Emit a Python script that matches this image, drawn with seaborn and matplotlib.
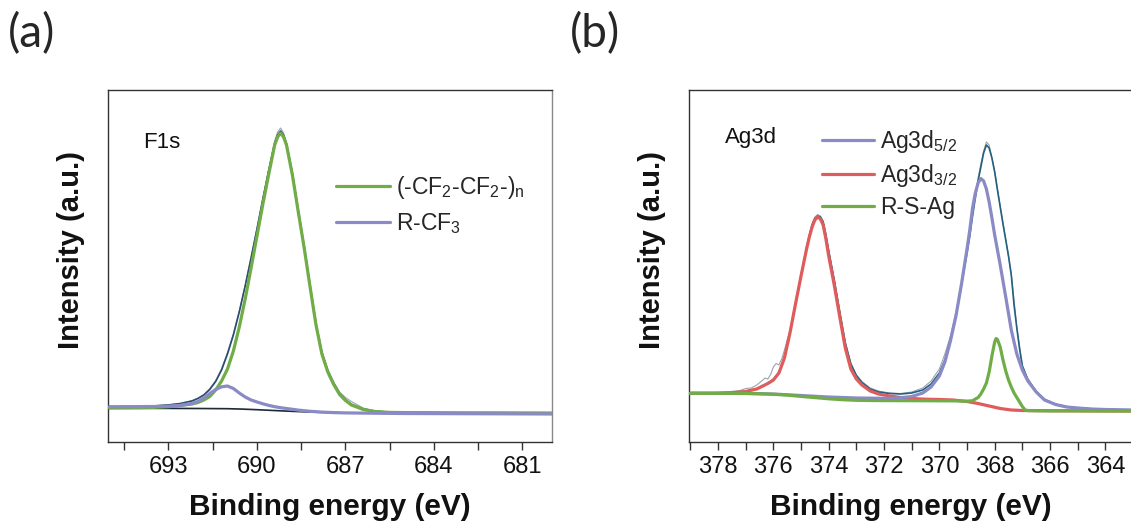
import numpy as np
import pandas as pd
import matplotlib
matplotlib.use("Agg")
import matplotlib.pyplot as plt
from matplotlib.ticker import MultipleLocator
from matplotlib.lines import Line2D
import seaborn as sns

# ---------------- data: panel (a) F1s ----------------
E_a = [695, 694.5, 694, 693.5, 693, 692.6, 692.2, 692.0, 691.8, 691.6, 691.4, 691.2, 691.0,
       690.8, 690.6, 690.4, 690.2, 690.0, 689.8, 689.6, 689.4, 689.3, 689.2, 689.1, 689.0,
       688.8, 688.6, 688.4, 688.2, 688.0, 687.8, 687.6, 687.4, 687.2, 687.0, 686.8, 686.4,
       686.0, 685.5, 685, 684, 683, 682, 681, 680]
cf2_a = [34.0, 34.1, 34.3, 34.6, 35.3, 36.5, 38.0, 39.5, 42.0, 45.5, 52.0, 61.0, 73.0,
         91.0, 115.0, 143.0, 174.0, 206.0, 238.0, 268.0, 297.0, 305.0, 309.0, 305.0, 297.0,
         267.0, 230.0, 194.0, 155.0, 117.0, 88.0, 70.0, 57.5, 47.5, 41.5, 37.0, 32.5,
         30.5, 29.6, 29.4, 29.3, 29.2, 29.2, 29.1, 29.0]
env_a = [35.0, 35.2, 35.5, 36.0, 37.0, 38.5, 41.0, 43.5, 47.0, 52.5, 60.5, 72.0, 88.0,
         107.0, 130.0, 156.0, 184.0, 213.0, 243.0, 272.0, 299.0, 307.0, 311.0, 307.0, 298.5,
         268.5, 231.5, 195.5, 156.5, 118.5, 89.5, 71.3, 58.7, 48.6, 42.4, 37.8, 33.0,
         30.8, 29.8, 29.5, 29.3, 29.2, 29.1, 29.0, 28.9]
raw_a = [35.6, 35.0, 35.9, 36.2, 37.4, 38.3, 41.5, 44.0, 47.6, 53.5, 61.5, 73.5, 89.5,
         108.5, 131.5, 157.0, 185.0, 214.0, 244.5, 273.0, 301.0, 310.0, 314.0, 309.0, 299.0,
         269.0, 232.0, 196.0, 157.5, 119.5, 90.5, 72.5, 60.0, 50.0, 44.5, 40.5, 34.0,
         31.0, 30.2, 29.4, 29.6, 29.1, 29.3, 28.9, 29.0]
E_a_bg = [695, 693, 692, 691, 690.5, 690, 689.5, 689, 688.5, 688, 687.5, 687, 686, 684, 682, 680]
bg_a = [33.7, 33.6, 33.5, 33.3, 32.9, 32.3, 31.6, 30.9, 30.3, 29.8, 29.4, 29.1, 28.8, 28.6, 28.5, 28.4]
E_a_cf3 = [695, 694, 693.5, 693, 692.6, 692.2, 692.0, 691.8, 691.6, 691.4, 691.2, 691.0,
           690.8, 690.6, 690.4, 690.2, 690.0, 689.8, 689.6, 689.4, 689.2, 689.0, 688.6,
           688.2, 687.8, 687.4, 687.0, 686.4, 686.0, 685, 684, 683, 682, 681, 680]
cf3_a = [35.3, 35.4, 35.5, 35.8, 36.6, 38.6, 40.5, 44.0, 48.5, 52.5, 55.2, 56.0,
         53.5, 49.0, 45.0, 42.0, 40.0, 38.2, 36.6, 35.3, 34.3, 33.5, 31.9,
         30.7, 29.9, 29.4, 29.1, 28.9, 28.8, 28.5, 28.4, 28.3, 28.2, 28.1, 28.0]

# ---------------- data: panel (b) Ag3d ----------------
E_b_red = [379, 378, 377.5, 377, 376.6, 376.2, 376.0, 375.8, 375.6, 375.4, 375.2, 375.0,
           374.8, 374.7, 374.6, 374.5, 374.4, 374.3, 374.2, 374.1, 374.0, 373.8, 373.6,
           373.4, 373.2, 373.0, 372.8, 372.5, 372.2, 371.8, 371.4, 371.0, 370.5, 370.0,
           369.5, 369.0, 368.6, 368.2, 367.8, 367.4, 367.0, 366, 365, 364, 363]
ag32_b = [48.7, 48.8, 49.2, 50.5, 53.0, 58.5, 62.0, 69.0, 84.0, 109.0, 138.0, 166.0,
          193.0, 205.0, 215.0, 222.0, 225.0, 223.0, 217.0, 203.0, 186.0, 157.0, 125.0,
          94.0, 73.0, 63.0, 57.0, 51.0, 48.0, 46.0, 44.5, 43.5, 42.8, 42.5,
          42.0, 40.5, 38.5, 36.0, 33.5, 32.0, 31.5, 31.3, 31.2, 31.1, 31.0]
E_b_pur = [379, 377, 376, 375, 374, 373, 372, 371.5, 371.0, 370.6, 370.3, 370.0, 369.8,
           369.6, 369.4, 369.2, 369.0, 368.9, 368.8, 368.7, 368.6, 368.5, 368.4, 368.3,
           368.2, 368.1, 368.0, 367.9, 367.8, 367.6, 367.4, 367.2, 367.0, 366.8, 366.5,
           366.2, 365.8, 365.4, 365.0, 364.5, 364, 363.5, 363]
ag52_b = [48.7, 48.6, 48.0, 46.5, 45.0, 44.0, 43.7, 44.0, 45.5, 49.0, 55.0, 66.0, 80.0,
          101.0, 126.0, 158.0, 193.0, 212.0, 234.0, 249.0, 259.0, 263.5, 261.0, 253.0,
          240.0, 224.0, 207.0, 192.0, 177.0, 145.0, 112.0, 88.0, 72.0, 61.0, 50.0,
          42.0, 37.5, 35.0, 34.0, 33.0, 32.5, 32.2, 32.0]
E_b_grn = [379, 378, 377, 376.5, 376.0, 375.5, 375.0, 374.5, 374.0, 373.5, 373.0, 372.5,
           372, 371, 370, 369.4, 369.0, 368.8, 368.6, 368.5, 368.4, 368.3, 368.2, 368.1,
           368.0, 367.95, 367.9, 367.8, 367.7, 367.6, 367.5, 367.4, 367.3, 367.2, 367.1,
           367.0, 366.9, 366.8, 366.5, 366, 365, 364, 363]
rsag_b = [48.7, 48.7, 48.5, 48.2, 47.7, 46.9, 45.6, 44.4, 43.2, 42.3, 41.7, 41.5,
          41.4, 41.3, 41.2, 41.1, 40.8, 41.3, 44.5, 48.0, 53.0, 59.0, 70.0, 86.0,
          100.0, 103.5, 102.5, 95.0, 82.0, 71.0, 62.0, 55.0, 49.0, 44.5, 40.0,
          35.5, 32.0, 31.4, 31.2, 31.1, 31.1, 31.0, 31.0]
E_b_env = [379, 378, 377.5, 377, 376.6, 376.2, 376.0, 375.8, 375.6, 375.4, 375.2, 375.0,
           374.8, 374.7, 374.6, 374.5, 374.4, 374.3, 374.2, 374.1, 374.0, 373.8, 373.6,
           373.4, 373.2, 373.0, 372.8, 372.5, 372.2, 371.8, 371.4, 371.0, 370.6, 370.3,
           370.0, 369.8, 369.6, 369.4, 369.2, 369.0, 368.9, 368.8, 368.7, 368.6, 368.5,
           368.4, 368.3, 368.2, 368.1, 368.0, 367.9, 367.8, 367.7, 367.6, 367.5, 367.4,
           367.3, 367.2, 367.1, 367.0, 366.9, 366.8, 366.5, 366.2, 365.8, 365.4, 365.0,
           364.5, 364, 363]
env_b = [49.0, 49.0, 49.4, 50.8, 53.3, 58.8, 62.3, 69.3, 84.5, 109.5, 138.5, 166.5,
         194.0, 206.5, 217.0, 223.5, 226.0, 225.0, 220.0, 207.0, 191.0, 162.0, 130.0,
         99.0, 78.0, 66.5, 59.5, 53.0, 50.0, 48.5, 48.0, 49.0, 52.0, 58.0,
         69.0, 82.0, 102.0, 126.0, 157.0, 189.0, 206.0, 226.0, 244.0, 261.0, 275.0,
         289.0, 297.0, 294.0, 284.0, 270.0, 252.0, 235.0, 218.0, 202.0, 186.0, 167.0,
         137.0, 114.0, 93.0, 76.0, 69.0, 62.5, 50.5, 42.5, 37.8, 35.2, 34.1,
         33.1, 32.6, 32.1]
E_b_raw = [379, 378.5, 378, 377.5, 377.2, 377.0, 376.8, 376.6, 376.4, 376.3, 376.2, 376.1,
           376.0, 375.9, 375.8, 375.7, 375.6, 375.4, 375.2, 375.0, 374.8, 374.6, 374.5,
           374.4, 374.3, 374.2, 374.0, 373.8, 373.6, 373.4, 373.2, 373.0, 372.8, 372.5,
           372.2, 371.8, 371.4, 371.0, 370.6, 370.3, 370.0, 369.8, 369.6, 369.4, 369.2,
           369.0, 368.8, 368.6, 368.5, 368.4, 368.3, 368.2, 368.0, 367.8, 367.6, 367.4,
           367.2, 367.0, 366.8, 366.5, 366.2, 365.8, 365.4, 365.0, 364.5, 364, 363]
raw_b = [49.3, 48.8, 49.6, 50.6, 51.5, 53.5, 54.0, 57.0, 61.5, 64.0, 63.0, 67.5,
         75.0, 78.5, 77.0, 83.0, 92.0, 112.0, 140.0, 168.0, 196.0, 218.5, 225.0,
         227.5, 226.0, 221.0, 192.0, 163.0, 131.0, 100.0, 79.0, 67.0, 60.5, 54.0,
         51.0, 49.0, 48.5, 50.0, 54.0, 61.0, 73.0, 88.0, 106.0, 130.0, 160.0,
         191.0, 229.0, 264.0, 278.0, 291.0, 300.0, 297.0, 271.0, 236.0, 203.0, 168.0,
         115.0, 77.0, 63.0, 51.0, 43.0, 38.0, 35.5, 34.0, 33.3, 32.8, 32.0]

xticks_a = [693, 690, 687, 684, 681]
xticks_b = [378, 376, 374, 372, 370, 368, 366, 364]

# ---------------- style ----------------
sns.set_theme(style="white")
plt.rcParams["font.family"] = ["Liberation Sans", "DejaVu Sans"]
plt.rcParams["mathtext.fontset"] = "custom"
plt.rcParams["mathtext.rm"] = "Liberation Sans"
plt.rcParams["mathtext.it"] = "Liberation Sans"
plt.rcParams["mathtext.default"] = "regular"

GREEN = "#70ad47"
PURPLE = "#8a8ac6"
RED = "#e05c5c"
ENV_A = "#2b4c72"
BG_A = "#1d2a3a"
ENV_B = "#23617e"
RAW = "#9ba3ad"

W, H = 1131, 525
fig = plt.figure(figsize=(W / 100, H / 100), dpi=100)

def px_axes(left, right, top, bottom):
    return fig.add_axes([left / W, 1 - bottom / H, (right - left) / W, (bottom - top) / H])

ax_a = px_axes(108, 552, 90, 442)
ax_b = px_axes(689, 1133, 90, 442)

def line(ax, x, y, color, lw, z, label=None):
    sns.lineplot(x=x, y=y, ax=ax, color=color, lw=lw, sort=False, estimator=None,
                 zorder=z, legend=False, label=label)

# panel a
line(ax_a, E_a, raw_a, RAW, 0.8, 2)
line(ax_a, E_a, env_a, ENV_A, 1.2, 3)
line(ax_a, E_a_bg, bg_a, BG_A, 1.2, 3)
line(ax_a, E_a, cf2_a, GREEN, 2.3, 4)
line(ax_a, E_a_cf3, cf3_a, PURPLE, 2.3, 5)

# panel b
line(ax_b, E_b_raw, raw_b, RAW, 0.8, 2)
line(ax_b, E_b_env, env_b, ENV_B, 1.2, 3)
line(ax_b, E_b_red, ag32_b, RED, 2.3, 4)
line(ax_b, E_b_pur, ag52_b, PURPLE, 2.3, 5)
line(ax_b, E_b_grn, rsag_b, GREEN, 2.3, 6)

for ax, xl, major, minor, ticks in [(ax_a, (695.05, 680), 3, 1.5, xticks_a),
                                    (ax_b, (379.05, 363), 2, 1, xticks_b)]:
    ax.set_xlim(*xl)
    ax.set_ylim(0, 352)
    ax.set_yticks([])
    ax.set_xticks(ticks)
    ax.xaxis.set_minor_locator(MultipleLocator(minor))
    ax.tick_params(axis="x", which="both", direction="out", length=6, width=1,
                   color="#333333", bottom=True, pad=4, labelsize=17, labelcolor="#111111")
    for s in ax.spines.values():
        s.set_color("#333333")
        s.set_linewidth(1.0)
    ax.set_xlabel("Binding energy (eV)", fontsize=21.5, fontweight="bold", color="#111111")
    ax.xaxis.label.set_va("center")
    ax.xaxis.set_label_coords(0.5, -0.186)
    ax.set_ylabel("Intensity (a.u.)", fontsize=21, fontweight="bold", color="#111111")
    ax.yaxis.label.set_va("center")
    ax.yaxis.set_label_coords(-0.084, 0.545)
ax_a.spines["right"].set_color("#888888")

# in-panel labels
ax_a.text(0.079, 0.835, "F1s", transform=ax_a.transAxes, fontsize=16, color="#111111",
          ha="left", va="baseline")
ax_b.text(0.081, 0.849, "Ag3d", transform=ax_b.transAxes, fontsize=16, color="#111111",
          ha="left", va="baseline")

# legends
h_a = [Line2D([], [], color=GREEN, lw=2.3), Line2D([], [], color=PURPLE, lw=2.3)]
lab_a = [r"(-CF$_2$-CF$_2$-)$_n$", r"R-CF$_3$"]
ax_a.legend(h_a, lab_a, loc="upper left", bbox_to_anchor=(0.5135, 0.76), frameon=False,
            fontsize=16.5, handlelength=2.35, handletextpad=0.25, labelspacing=0.4,
            borderpad=0, borderaxespad=0)
h_b = [Line2D([], [], color=PURPLE, lw=2.3), Line2D([], [], color=RED, lw=2.3),
       Line2D([], [], color=GREEN, lw=2.3)]
lab_b = [r"Ag3d$_{5/2}$", r"Ag3d$_{3/2}$", "R-S-Ag"]
ax_b.legend(h_b, lab_b, loc="upper left", bbox_to_anchor=(0.299, 0.892), frameon=False,
            fontsize=16.5, handlelength=2.3, handletextpad=0.25, labelspacing=0.3,
            borderpad=0, borderaxespad=0)

# panel letters
fig.text(8 / W, 1 - 12 / H, "(a)", fontsize=33, family=["Lato", "DejaVu Sans"], va="top", ha="left")
fig.text(570 / W, 1 - 12 / H, "(b)", fontsize=33, family=["Lato", "DejaVu Sans"], va="top", ha="left")

fig.savefig("out.png", dpi=100)
